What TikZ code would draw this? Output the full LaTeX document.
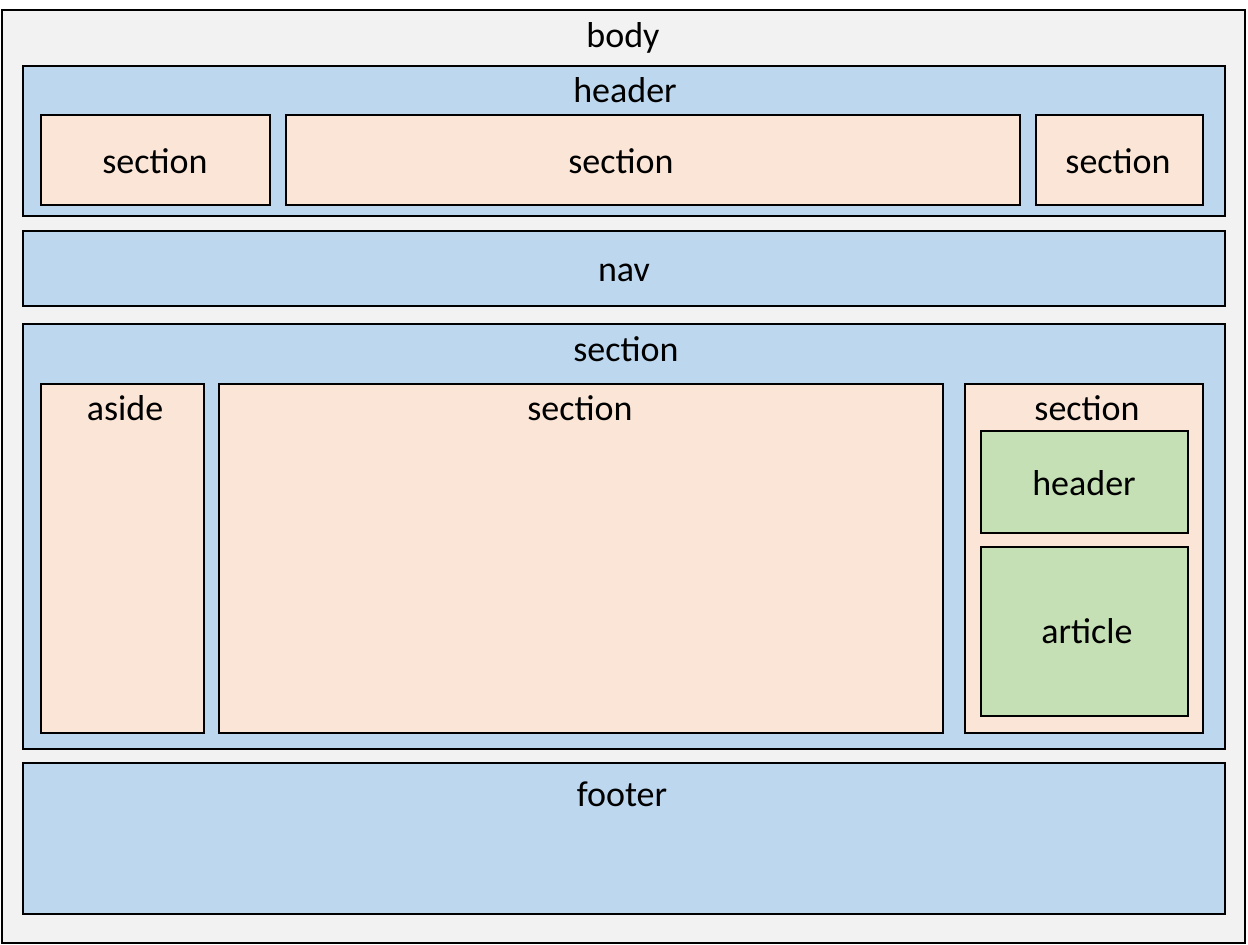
\documentclass[tikz,border=0pt]{standalone}
\usepackage{fontspec}
\setmainfont{Carlito}
\definecolor{bodyc}{HTML}{F2F2F2}
\definecolor{bluec}{HTML}{BDD7EE}
\definecolor{peachc}{HTML}{FBE5D6}
\definecolor{greenc}{HTML}{C5E0B4}
\tikzset{
  blk/.style={draw=black, line width=2pt, anchor=north west, inner sep=0pt, outer sep=0pt},
  lbl/.style={anchor=base, inner sep=0pt, font=\fontsize{36}{43}\selectfont, text=black},
}
\newcommand\blkbox[6]{% name, fill, x1, y1, x2, y2
  \pgfmathsetmacro\bw{#5-#3}\pgfmathsetmacro\bh{#6-#4}%
  \node[blk, fill=#2, minimum width=\bw pt, minimum height=\bh pt] (#1) at (#3,#4) {};}
\begin{document}
\begin{tikzpicture}[x=1pt,y=-1pt]
\useasboundingbox (0,0) rectangle (1248,945);
\blkbox{body}{bodyc}{2}{10}{1245}{943}
\blkbox{header}{bluec}{23}{66}{1225}{216}
\blkbox{hsecA}{peachc}{41}{115}{270}{205}
\blkbox{hsecB}{peachc}{286}{115}{1020}{205}
\blkbox{hsecC}{peachc}{1036}{115}{1203}{205}
\blkbox{nav}{bluec}{23}{231}{1225}{306}
\blkbox{main}{bluec}{23}{324}{1225}{749}
\blkbox{aside}{peachc}{41}{384}{204}{733}
\blkbox{msec}{peachc}{219}{384}{943}{733}
\blkbox{rsec}{peachc}{965}{384}{1203}{733}
\blkbox{gheader}{greenc}{981}{431}{1188}{533}
\blkbox{article}{greenc}{981}{547}{1188}{716}
\blkbox{footer}{bluec}{23}{763}{1225}{914}
\node[lbl] (tbody) at (623,47) {body};
\node[lbl] (theader) at (625,102) {header};
\node[lbl] (thsecA) at (155,173) {section};
\node[lbl] (thsecB) at (621,173) {section};
\node[lbl] (thsecC) at (1118,173) {section};
\node[lbl] (tnav) at (624,281) {nav};
\node[lbl] (tmain) at (626,361) {section};
\node[lbl] (taside) at (125,420) {aside};
\node[lbl] (tmsec) at (580,420) {section};
\node[lbl] (trsec) at (1087,420) {section};
\node[lbl] (tgheader) at (1084,495) {header};
\node[lbl] (tarticle) at (1087,643) {article};
\node[lbl] (tfooter) at (622,806) {footer};
\end{tikzpicture}
\end{document}
